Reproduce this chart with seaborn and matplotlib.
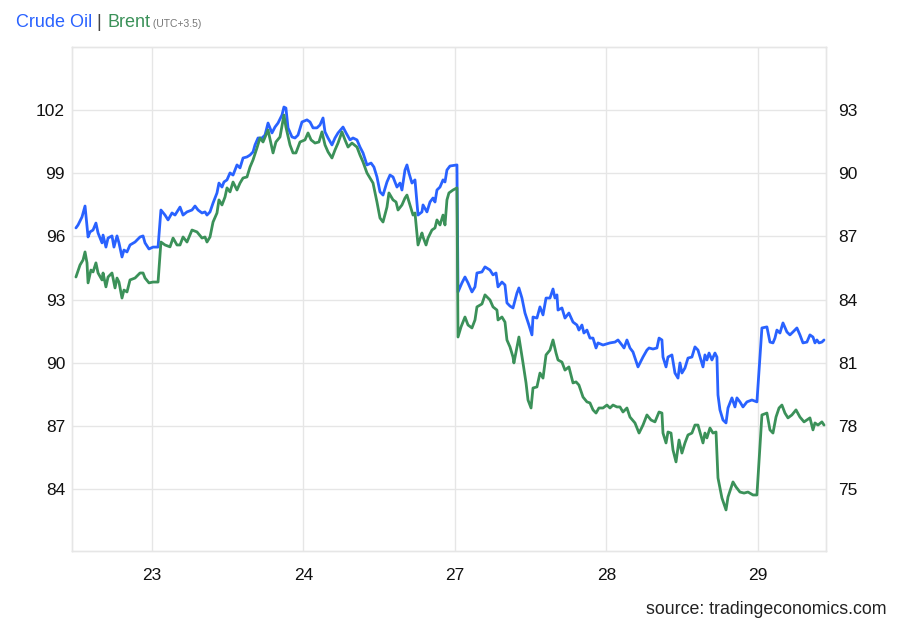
import matplotlib
matplotlib.use("Agg")
import matplotlib.pyplot as plt
import seaborn as sns
import pandas as pd

# ---- data (x = trading-session index: 0 -> "23", 1 -> "24", 2 -> "27", 3 -> "28", 4 -> "29")
day_labels = ["23", "24", "27", "28", "29"]
day_pos = [0, 1, 2, 3, 4]

crude_t = [-0.502, -0.488, -0.462, -0.442, -0.436, -0.422, -0.409, -0.389, -0.370, -0.356,
           -0.330, -0.323, -0.304, -0.290, -0.264, -0.251, -0.231, -0.218, -0.198, -0.185,
           -0.165, -0.145, -0.112, -0.079, -0.059, -0.046, -0.020, 0.007, 0.040, 0.059,
           0.086, 0.106, 0.132, 0.152, 0.185, 0.205, 0.231, 0.264, 0.284, 0.304,
           0.330, 0.350, 0.363, 0.383, 0.403, 0.429, 0.442, 0.462, 0.475, 0.495,
           0.515, 0.535, 0.561, 0.581, 0.601, 0.627, 0.647, 0.667, 0.680, 0.700,
           0.726, 0.746, 0.766, 0.792, 0.812, 0.832, 0.858, 0.871, 0.884, 0.898,
           0.924, 0.944, 0.964, 0.990, 1.023, 1.043, 1.063, 1.089, 1.109, 1.129,
           1.142, 1.162, 1.188, 1.208, 1.228, 1.261, 1.281, 1.307, 1.327, 1.353,
           1.373, 1.393, 1.419, 1.446, 1.465, 1.485, 1.505, 1.525, 1.551, 1.571,
           1.591, 1.617, 1.637, 1.650, 1.670, 1.683, 1.696, 1.716, 1.736, 1.756,
           1.782, 1.789, 1.815, 1.835, 1.855, 1.868, 1.881, 1.901, 1.921, 1.934,
           1.947, 1.967, 2.013, 2.020, 2.046, 2.066, 2.086, 2.112, 2.132, 2.145,
           2.178, 2.198, 2.231, 2.251, 2.271, 2.284, 2.310, 2.330, 2.343, 2.363,
           2.383, 2.409, 2.422, 2.442, 2.462, 2.488, 2.508, 2.515, 2.541, 2.561,
           2.581, 2.601, 2.627, 2.647, 2.660, 2.673, 2.680, 2.706, 2.726, 2.752,
           2.779, 2.805, 2.818, 2.838, 2.851, 2.871, 2.891, 2.911, 2.931, 2.944,
           2.977, 3.023, 3.056, 3.076, 3.102, 3.116, 3.135, 3.155, 3.175, 3.208,
           3.241, 3.267, 3.281, 3.307, 3.333, 3.347, 3.366, 3.373, 3.393, 3.406,
           3.432, 3.452, 3.472, 3.485, 3.498, 3.518, 3.538, 3.564, 3.584, 3.604,
           3.637, 3.650, 3.663, 3.677, 3.696, 3.716, 3.729, 3.736, 3.749, 3.769,
           3.789, 3.802, 3.828, 3.848, 3.861, 3.881, 3.901, 3.927, 3.960, 3.993,
           4.026, 4.059, 4.079, 4.099, 4.112, 4.125, 4.145, 4.165, 4.191, 4.211,
           4.231, 4.257, 4.277, 4.297, 4.323, 4.343, 4.363, 4.376, 4.389, 4.403,
           4.422, 4.436]
crude_v = [96.40, 96.54, 96.92, 97.44, 97.01, 95.97, 96.21, 96.30, 96.63, 96.16,
           95.69, 96.06, 95.49, 95.92, 96.02, 95.49, 96.02, 95.69, 95.02, 95.35,
           95.26, 95.59, 95.73, 95.97, 96.02, 95.69, 95.40, 95.49, 95.49, 97.25,
           97.01, 96.78, 97.11, 97.01, 97.39, 97.01, 97.16, 97.25, 97.44, 97.25,
           97.11, 97.16, 97.01, 97.16, 97.58, 98.06, 98.53, 98.34, 98.58, 98.68,
           99.01, 98.91, 99.39, 99.25, 99.72, 99.77, 99.86, 100.01, 100.34, 100.67,
           100.67, 100.81, 101.38, 100.91, 101.19, 101.38, 101.76, 102.14, 102.09, 101.15,
           100.72, 100.67, 100.81, 101.43, 101.53, 101.43, 101.15, 101.15, 101.29, 101.62,
           100.96, 100.67, 100.34, 100.67, 100.91, 101.19, 100.91, 100.58, 100.67, 100.58,
           100.24, 99.96, 99.39, 99.48, 99.29, 98.82, 98.11, 97.96, 98.58, 98.91,
           98.82, 98.34, 98.53, 98.20, 99.15, 99.39, 99.01, 98.53, 98.68, 97.01,
           97.16, 97.49, 97.16, 97.63, 97.82, 97.63, 98.20, 98.34, 98.68, 98.58,
           99.15, 99.34, 99.39, 93.36, 93.79, 94.07, 93.79, 93.36, 93.60, 94.26,
           94.31, 94.55, 94.40, 94.17, 94.26, 93.60, 93.83, 93.69, 92.84, 92.69,
           92.60, 93.31, 93.55, 93.07, 92.36, 91.79, 91.32, 92.17, 92.12, 92.65,
           92.27, 93.07, 93.07, 93.50, 93.07, 93.22, 92.50, 92.60, 92.12, 92.36,
           91.93, 91.79, 91.55, 91.79, 91.41, 91.55, 91.17, 91.17, 90.70, 90.94,
           90.84, 90.94, 90.98, 91.08, 90.84, 90.70, 91.08, 90.70, 90.51, 89.80,
           90.27, 90.60, 90.70, 90.65, 90.70, 91.17, 91.08, 90.27, 89.80, 90.27,
           90.37, 89.51, 89.27, 89.99, 89.51, 89.75, 90.22, 90.27, 90.75, 90.60,
           89.80, 90.37, 90.13, 90.46, 90.13, 90.46, 90.27, 88.47, 87.76, 87.28,
           87.14, 87.85, 88.33, 87.90, 88.33, 88.14, 87.90, 88.14, 88.23, 88.14,
           91.65, 91.70, 90.98, 90.94, 91.17, 91.55, 91.41, 91.89, 91.46, 91.32,
           91.46, 91.65, 91.32, 90.94, 90.98, 91.32, 91.22, 90.94, 91.08, 90.94,
           90.98, 91.08]

brent_t = [-0.502, -0.475, -0.455, -0.442, -0.429, -0.422, -0.403, -0.389, -0.370, -0.356,
           -0.330, -0.323, -0.304, -0.290, -0.264, -0.244, -0.231, -0.218, -0.198, -0.185,
           -0.165, -0.145, -0.112, -0.079, -0.059, -0.046, -0.020, 0.007, 0.040, 0.059,
           0.086, 0.119, 0.139, 0.165, 0.185, 0.205, 0.231, 0.264, 0.297, 0.330,
           0.350, 0.363, 0.383, 0.403, 0.429, 0.442, 0.462, 0.482, 0.495, 0.515,
           0.535, 0.561, 0.581, 0.601, 0.627, 0.647, 0.667, 0.693, 0.713, 0.733,
           0.766, 0.799, 0.818, 0.845, 0.871, 0.884, 0.911, 0.931, 0.950, 0.977,
           1.010, 1.030, 1.050, 1.076, 1.102, 1.122, 1.142, 1.162, 1.188, 1.208,
           1.228, 1.254, 1.274, 1.294, 1.320, 1.353, 1.373, 1.393, 1.419, 1.439,
           1.459, 1.485, 1.505, 1.525, 1.551, 1.564, 1.591, 1.611, 1.624, 1.650,
           1.670, 1.683, 1.703, 1.723, 1.736, 1.756, 1.782, 1.789, 1.809, 1.822,
           1.848, 1.868, 1.881, 1.901, 1.921, 1.934, 1.947, 1.960, 1.987, 2.013,
           2.020, 2.040, 2.066, 2.086, 2.112, 2.132, 2.145, 2.178, 2.198, 2.231,
           2.251, 2.277, 2.284, 2.310, 2.330, 2.343, 2.363, 2.383, 2.389, 2.422,
           2.449, 2.469, 2.482, 2.502, 2.515, 2.541, 2.561, 2.581, 2.601, 2.627,
           2.647, 2.667, 2.680, 2.706, 2.726, 2.752, 2.779, 2.799, 2.818, 2.845,
           2.871, 2.891, 2.911, 2.931, 2.950, 2.977, 3.003, 3.023, 3.043, 3.069,
           3.089, 3.109, 3.135, 3.155, 3.188, 3.215, 3.241, 3.267, 3.294, 3.320,
           3.347, 3.366, 3.373, 3.393, 3.406, 3.426, 3.439, 3.459, 3.479, 3.498,
           3.518, 3.538, 3.564, 3.584, 3.604, 3.637, 3.650, 3.663, 3.683, 3.703,
           3.723, 3.736, 3.762, 3.789, 3.802, 3.835, 3.855, 3.881, 3.908, 3.934,
           3.967, 3.993, 4.026, 4.059, 4.079, 4.099, 4.119, 4.139, 4.158, 4.178,
           4.198, 4.224, 4.251, 4.277, 4.304, 4.323, 4.343, 4.363, 4.376, 4.396,
           4.422, 4.436]
brent_v = [85.07, 85.64, 85.88, 86.26, 85.74, 84.79, 85.40, 85.31, 85.74, 85.26,
           84.93, 85.26, 84.60, 85.07, 85.26, 84.55, 85.02, 84.83, 84.07, 84.45,
           84.36, 84.93, 85.02, 85.26, 85.26, 85.02, 84.79, 84.83, 84.83, 86.73,
           86.59, 86.50, 86.92, 86.59, 86.59, 86.97, 86.73, 87.30, 87.21, 86.92,
           86.97, 86.73, 86.97, 87.68, 88.11, 88.73, 88.49, 88.87, 89.30, 89.11,
           89.58, 89.20, 89.53, 89.77, 89.82, 90.29, 90.63, 91.20, 91.67, 91.48,
           92.05, 90.96, 91.48, 91.72, 92.76, 92.19, 91.34, 90.96, 90.96, 91.48,
           91.58, 91.91, 91.58, 91.43, 91.48, 91.96, 91.34, 91.01, 90.72, 91.10,
           91.43, 91.96, 91.58, 91.24, 91.43, 91.24, 90.86, 90.53, 90.01, 89.77,
           89.53, 88.63, 87.87, 87.68, 88.39, 89.06, 88.73, 88.63, 88.25, 88.49,
           88.82, 88.96, 88.49, 88.01, 88.11, 86.59, 87.16, 86.97, 86.59, 86.92,
           87.30, 87.40, 87.78, 87.54, 88.01, 87.54, 88.73, 89.06, 89.20, 89.30,
           82.22, 82.70, 83.17, 82.79, 82.65, 83.03, 83.65, 83.79, 84.22, 83.98,
           83.65, 83.50, 83.03, 83.17, 82.93, 82.08, 81.75, 81.27, 80.99, 82.22,
           80.99, 80.04, 79.23, 78.85, 79.80, 79.85, 80.51, 80.27, 81.37, 81.60,
           82.08, 81.46, 81.13, 81.03, 80.65, 80.80, 80.04, 80.09, 79.94, 79.37,
           79.14, 79.09, 78.76, 78.61, 78.85, 78.85, 78.99, 78.85, 78.99, 78.90,
           78.90, 78.66, 78.85, 78.42, 78.14, 77.66, 78.04, 78.52, 78.28, 78.19,
           78.66, 78.61, 77.66, 77.19, 77.71, 77.66, 76.86, 76.29, 77.33, 76.71,
           77.19, 77.57, 77.66, 78.04, 78.04, 77.19, 77.66, 77.43, 77.90, 77.66,
           77.71, 75.53, 74.58, 74.01, 74.62, 75.34, 75.10, 74.86, 74.81, 74.86,
           74.72, 74.72, 78.52, 78.61, 77.81, 77.66, 78.42, 78.85, 78.99, 78.61,
           78.38, 78.52, 78.76, 78.42, 78.19, 78.28, 78.38, 77.81, 78.14, 78.04,
           78.19, 78.04]

left_ticks = [84, 87, 90, 93, 96, 99, 102]
right_ticks = [75, 78, 81, 84, 87, 90, 93]

BLUE = "#2962ff"
GREEN = "#3b9159"
GRID = "#e6e6e6"

crude_df = pd.DataFrame({"t": crude_t, "price": crude_v})
brent_df = pd.DataFrame({"t": brent_t, "price": brent_v})

sns.set_theme(style="white")
plt.rcParams["font.family"] = ["Liberation Sans", "DejaVu Sans"]

fig = plt.figure(figsize=(9, 6.24), dpi=100)
ax = fig.add_axes([72 / 900, 1 - 551 / 624, (826 - 72) / 900, (551 - 47) / 624])
ax2 = ax.twinx()

sns.lineplot(data=crude_df, x="t", y="price", ax=ax, color=BLUE, linewidth=2.0, zorder=3)
sns.lineplot(data=brent_df, x="t", y="price", ax=ax2, color=GREEN, linewidth=2.0, zorder=3)

ax.set_xlim(-0.528, 4.449)
ax.set_ylim(81.06, 104.99)
ax2.set_ylim(72.06, 95.99)

ax.set_xticks(day_pos)
ax.set_xticklabels(day_labels)
ax.set_yticks(left_ticks)
ax2.set_yticks(right_ticks)

for a in (ax, ax2):
    a.set_xlabel("")
    a.set_ylabel("")
    for s in a.spines.values():
        s.set_color(GRID)
        s.set_linewidth(1.0)
    a.tick_params(axis="both", length=0, labelsize=12.5, colors="#111111")

ax.tick_params(axis="x", pad=12)
ax.tick_params(axis="y", pad=5)
ax2.tick_params(axis="y", pad=8.5)
ax.grid(True, color=GRID, linewidth=1.0)
ax.set_axisbelow(True)
ax2.grid(False)
ax2.patch.set_visible(False)

# Title with coloured parts
fig.canvas.draw()
renderer = fig.canvas.get_renderer()
x0 = 16 / 900
y0 = 1 - 27 / 624
parts = [("Crude Oil", BLUE, 13), (" | ", "#444444", 13), ("Brent", GREEN, 13), (" (UTC+3.5)", "#777777", 7.5)]
for txt, col, fs in parts:
    t = fig.text(x0, y0, txt, color=col, fontsize=fs, ha="left", va="baseline")
    bb = t.get_window_extent(renderer=renderer)
    x0 += bb.width / fig.bbox.width

fig.text(887 / 900, 1 - 614 / 624, "source: tradingeconomics.com", ha="right", va="baseline",
         fontsize=12.8, color="#222222")

fig.savefig("out.png", dpi=100)
